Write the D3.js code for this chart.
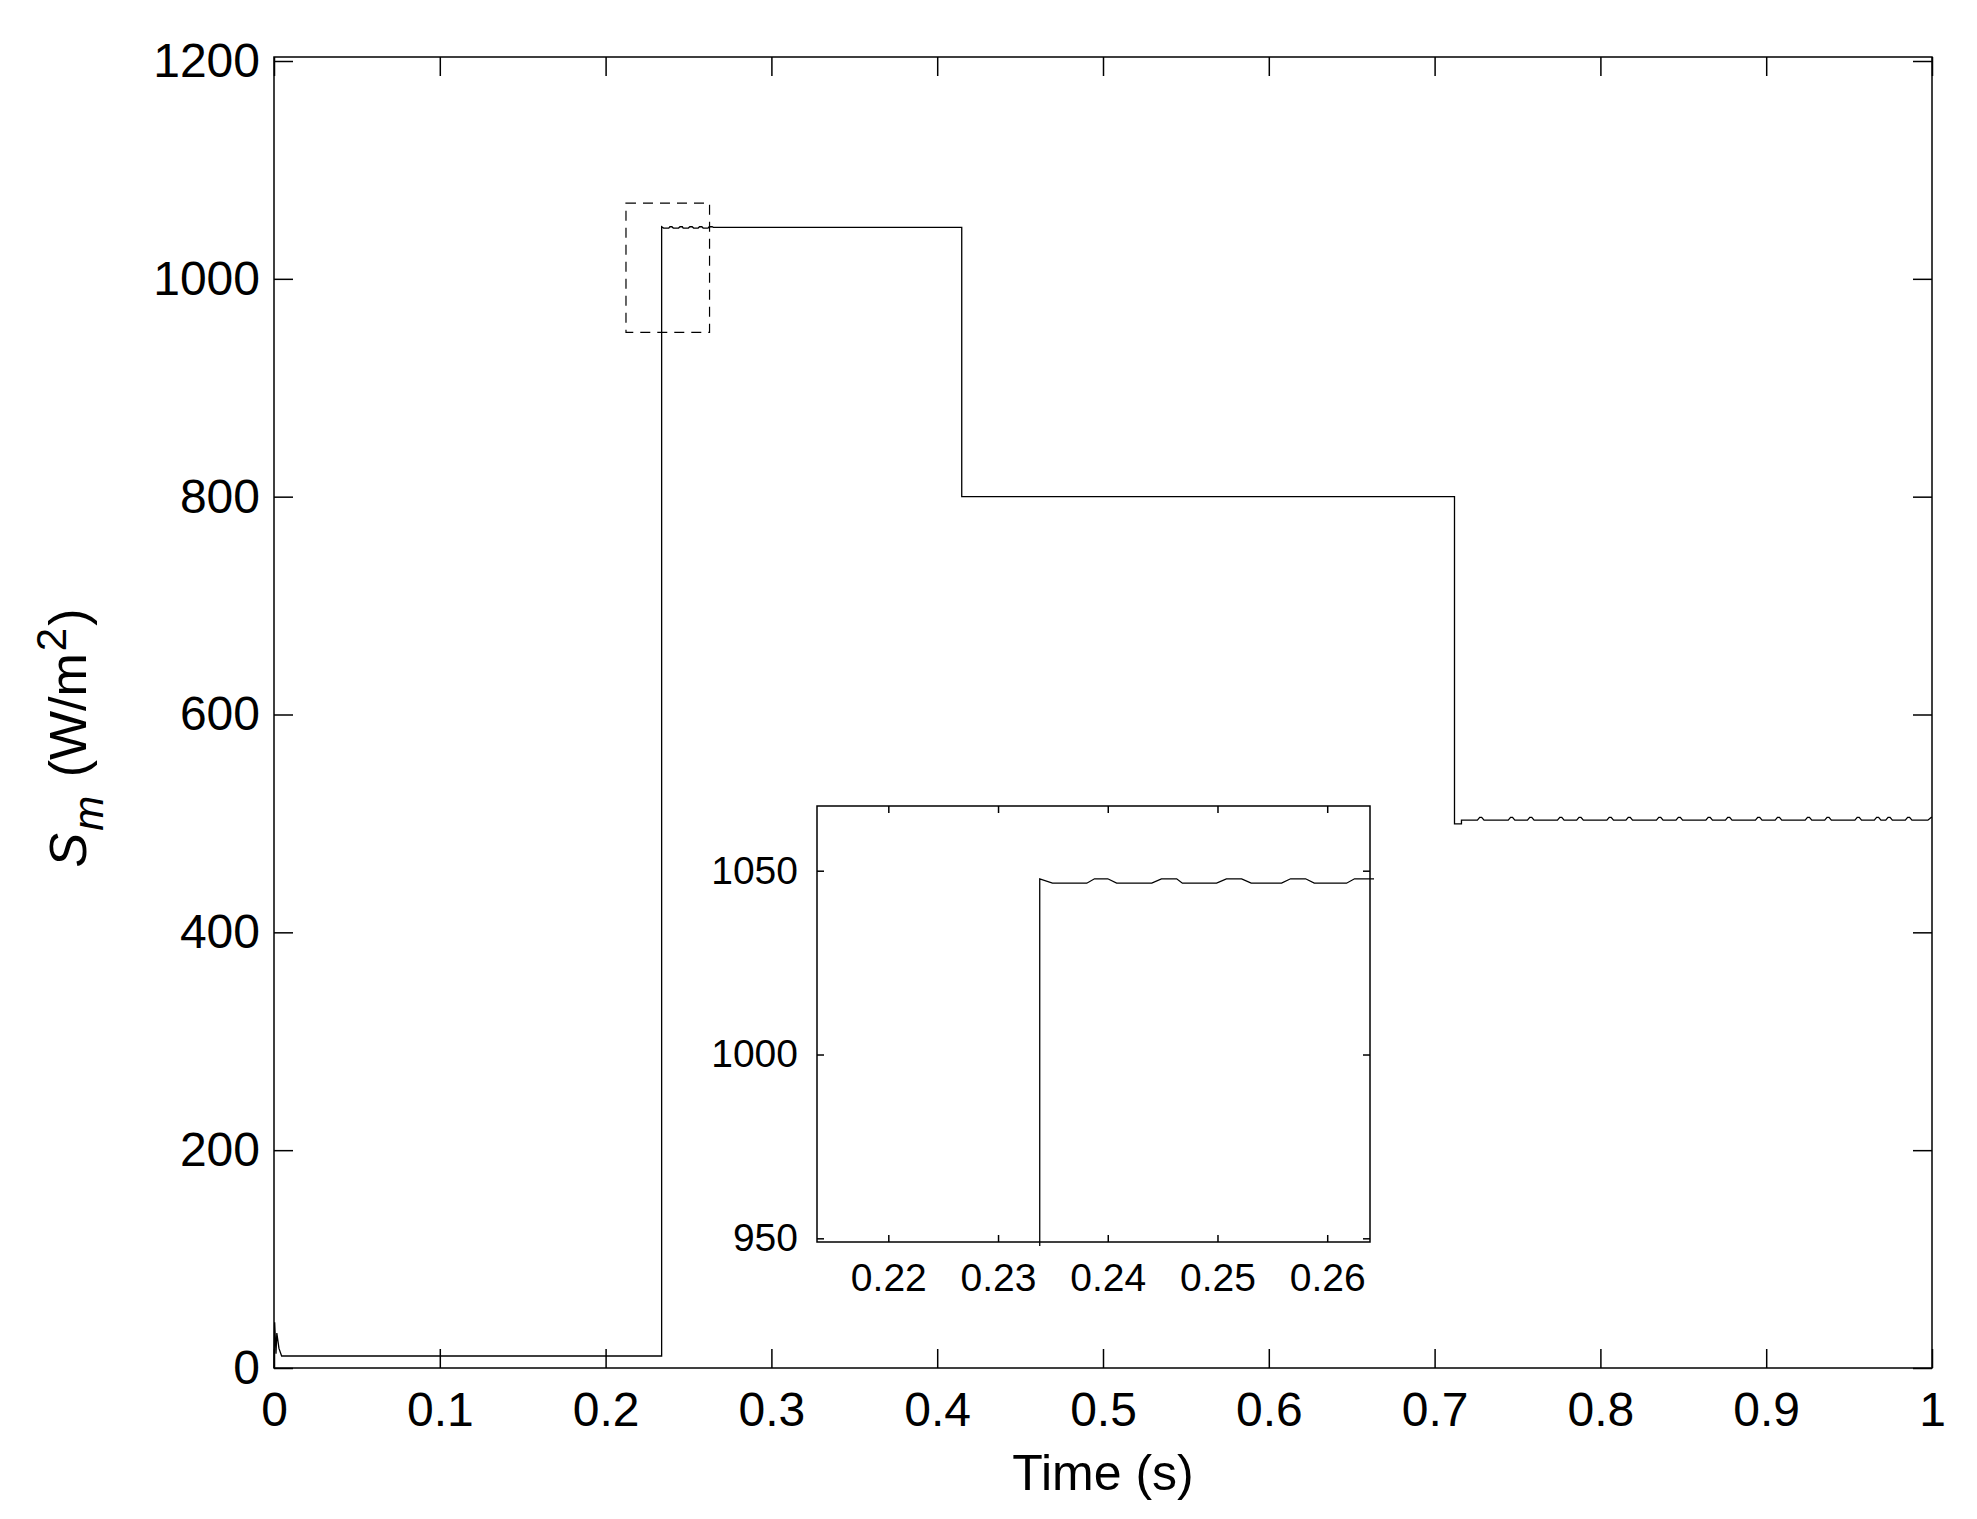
<!DOCTYPE html>
<html><head><meta charset="utf-8">
<script src="https://cdn.jsdelivr.net/npm/d3@7"></script>
<style>
body{margin:0;background:#fff}
text{font-family:"Liberation Sans",Arial,sans-serif;fill:#000}
</style>
</head><body>
<svg id="c" width="1977" height="1519"></svg>
<script>
// ---------- data ----------
const xTicksMain = [0,0.1,0.2,0.3,0.4,0.5,0.6,0.7,0.8,0.9,1];
const xTickLabelsMain = ["0","0.1","0.2","0.3","0.4","0.5","0.6","0.7","0.8","0.9","1"];
const yTicksMain = [0,200,400,600,800,1000,1200];
const xTicksInset = [0.22,0.23,0.24,0.25,0.26];
const xTickLabelsInset = ["0.22","0.23","0.24","0.25","0.26"];
const yTicksInset = [950,1000,1050];
const insetXDomain = [0.2135, 0.2639];
const insetYDomain = [949, 1067.6];

// irradiance trace: start-up, step to ~1048 with ripple, 800, then ~503
const seriesT = [0, 0.0004, 0.0012, 0.0017, 0.0030, 0.0046, 0.2338, 0.2338,
  0.23496, 0.23809, 0.23879, 0.24000, 0.24081, 0.24401, 0.24489, 0.24628,
  0.24680, 0.24992, 0.25081, 0.25220, 0.25307, 0.25584, 0.25666, 0.25803,
  0.25882, 0.26176, 0.26249, 0.26422, 0.2650, 0.4148, 0.4148, 0.7120, 0.7120,
  0.7162, 0.7162];
const seriesV = [0, 42, 13, 32, 18, 11, 11, 1047.8,
  1046.6, 1046.6, 1047.8, 1047.8, 1046.6, 1046.6, 1047.8, 1047.8,
  1046.6, 1046.6, 1047.8, 1047.8, 1046.6, 1046.6, 1047.8, 1047.8,
  1046.6, 1046.6, 1047.8, 1047.8, 1047.2, 1047.2, 800, 800, 499.5,
  499.5, 503];
// small ripple bumps on the ~503 level
const bumpTimes = [0.7278,0.7464,0.7580,0.7761,0.7877,0.8059,0.8174,0.8358,0.8476,
  0.8656,0.8774,0.8955,0.9074,0.9255,0.9373,0.9555,0.9672,0.9741,0.9859];
const rippleLevel = 503, bumpPeak = 505.5;
const endT = [0.9975, 0.9995, 1.0];
const endV = [503, 505.5, 505.5];

// ---------- build points ----------
const pts = seriesT.map((t,i)=>[t, seriesV[i]]);
bumpTimes.forEach(b=>{
  pts.push([b-0.0020, rippleLevel],[b-0.0006, bumpPeak],[b+0.0006, bumpPeak],[b+0.0020, rippleLevel]);
});
endT.forEach((t,i)=>pts.push([t, endV[i]]));

const svg = d3.select("#c");
const L=274, R=1932, T=57, B=1368;
const x = d3.scaleLinear().domain([0,1]).range([L,R]);
const y = d3.scaleLinear().domain([0,1200]).range([B,61]);

const FS = 48;
function styleAxis(g, fs){
  g.select(".domain").remove();
  g.selectAll(".tick line").attr("stroke","#000").attr("stroke-width",1.5);
  g.selectAll(".tick text").attr("font-size",fs).attr("font-family",'"Liberation Sans",Arial,sans-serif').attr("fill","#000");
}

// main frame
svg.append("rect").attr("x",L).attr("y",T).attr("width",R-L).attr("height",B-T)
  .attr("fill","none").attr("stroke","#000").attr("stroke-width",1.5);

// main axes
const TL = 19;
svg.append("g").attr("transform",`translate(0,${B})`)
  .call(d3.axisBottom(x).tickValues(xTicksMain).tickFormat((d,i)=>xTickLabelsMain[i]).tickSizeInner(-TL).tickSizeOuter(0).tickPadding(24))
  .call(g=>styleAxis(g,FS));
svg.append("g").attr("transform",`translate(0,${T})`)
  .call(d3.axisTop(x).tickValues(xTicksMain).tickFormat("").tickSizeInner(-TL).tickSizeOuter(0))
  .call(g=>styleAxis(g,FS));
svg.append("g").attr("transform",`translate(${L},0)`)
  .call(d3.axisLeft(y).tickValues(yTicksMain).tickFormat(d3.format("d")).tickSizeInner(-TL).tickSizeOuter(0).tickPadding(14))
  .call(g=>styleAxis(g,FS));
svg.append("g").attr("transform",`translate(${R},0)`)
  .call(d3.axisRight(y).tickValues(yTicksMain).tickFormat("").tickSizeInner(-TL).tickSizeOuter(0))
  .call(g=>styleAxis(g,FS));

// main line
const line = d3.line().x(d=>x(d[0])).y(d=>y(d[1]));
svg.append("path").datum(pts).attr("d",line).attr("fill","none")
  .attr("stroke","#000").attr("stroke-width",1.3);

// dashed zoom box
svg.append("rect")
  .attr("x",x(insetXDomain[0])-2).attr("y",y(insetYDomain[1])-2)
  .attr("width",x(insetXDomain[1])-x(insetXDomain[0]))
  .attr("height",y(insetYDomain[0])-y(insetYDomain[1]))
  .attr("fill","none").attr("stroke","#000").attr("stroke-width",1.2)
  .attr("stroke-dasharray","10,7");

// axis titles
svg.append("text").attr("x",(L+R)/2).attr("y",1490).attr("text-anchor","middle")
  .attr("font-size",50).text("Time (s)");
const yl = svg.append("text").attr("transform","translate(86,738) rotate(-90)")
  .attr("text-anchor","middle").attr("font-size",52);
yl.append("tspan").attr("font-style","italic").text("S");
yl.append("tspan").attr("font-style","italic").attr("font-size",42).attr("dy",17).attr("dx",2).text("m");
yl.append("tspan").attr("dy",-17).attr("dx",4).text(" (W/m");
yl.append("tspan").attr("font-size",42).attr("dy",-20).attr("dx",2).text("2");
yl.append("tspan").attr("dy",20).attr("dx",2).text(")");

// ---------- inset ----------
const IL=817, IR=1370, IT=806, IB=1242;
const ix = d3.scaleLinear().domain(insetXDomain).range([IL,IR]);
const iy = d3.scaleLinear().domain(insetYDomain).range([IB,IT]);
svg.append("rect").attr("x",IL).attr("y",IT).attr("width",IR-IL).attr("height",IB-IT)
  .attr("fill","#fff").attr("stroke","none");
svg.append("defs").append("clipPath").attr("id","ic").append("rect")
  .attr("x",IL).attr("y",IT).attr("width",IR-IL+4).attr("height",IB-IT+4);
const iline = d3.line().x(d=>ix(d[0])).y(d=>iy(d[1]));
svg.append("path").datum(pts).attr("d",iline).attr("fill","none")
  .attr("stroke","#000").attr("stroke-width",1.3).attr("clip-path","url(#ic)");
svg.append("rect").attr("x",IL).attr("y",IT).attr("width",IR-IL).attr("height",IB-IT)
  .attr("fill","none").attr("stroke","#000").attr("stroke-width",1.5);
const ITL = 7, IFS = 39;
svg.append("g").attr("transform",`translate(0,${IB})`)
  .call(d3.axisBottom(ix).tickValues(xTicksInset).tickFormat((d,i)=>xTickLabelsInset[i]).tickSizeInner(-ITL).tickSizeOuter(0).tickPadding(21))
  .call(g=>styleAxis(g,IFS));
svg.append("g").attr("transform",`translate(0,${IT})`)
  .call(d3.axisTop(ix).tickValues(xTicksInset).tickFormat("").tickSizeInner(-ITL).tickSizeOuter(0))
  .call(g=>styleAxis(g,IFS));
svg.append("g").attr("transform",`translate(${IL},0)`)
  .call(d3.axisLeft(iy).tickValues(yTicksInset).tickFormat(d3.format("d")).tickSizeInner(-ITL).tickSizeOuter(0).tickPadding(19))
  .call(g=>styleAxis(g,IFS));
svg.append("g").attr("transform",`translate(${IR},0)`)
  .call(d3.axisRight(iy).tickValues(yTicksInset).tickFormat("").tickSizeInner(-ITL).tickSizeOuter(0))
  .call(g=>styleAxis(g,IFS));
</script>
</body></html>
